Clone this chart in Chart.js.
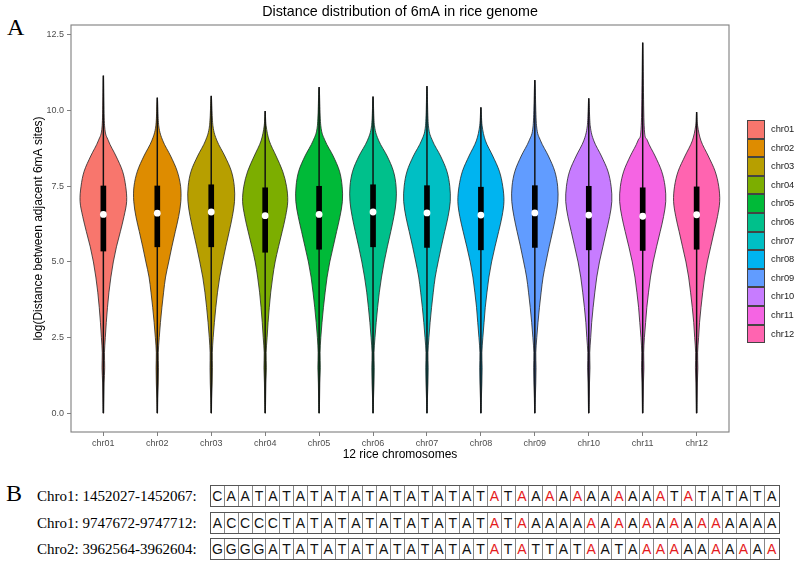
<!DOCTYPE html>
<html>
<head>
<meta charset="utf-8">
<script src="https://cdn.jsdelivr.net/npm/chart.js@4.4.1/dist/chart.umd.min.js"></script>
<style>
  body { margin: 0; width: 800px; height: 568px; background: #fff; position: relative; overflow: hidden;
         font-family: "Liberation Sans", Arial, sans-serif; }
  #chartBox { position: absolute; left: 0; top: 0; width: 800px; height: 462px; }
  .panelLetter { position: absolute; font-family: "Liberation Serif", "Times New Roman", serif;
                 font-size: 24px; line-height: 1; color: #000; }
  #legend { position: absolute; left: 747px; top: 120px; }
  .key { position: relative; height: 18.6px; }
  .swatch { position: absolute; left: 0; top: 0; width: 18px; height: 18.6px; box-sizing: border-box; border: 1px solid #444; }
  .keyText { position: absolute; left: 24px; top: 0; line-height: 18.6px; font-size: 9.3px; color: #1a1a1a; white-space: nowrap; }
  .seqRow { position: absolute; left: 0; height: 22px; }
  .seqLabel { position: absolute; left: 37px; top: 0; line-height: 22px; font-family: "Liberation Serif", "Times New Roman", serif;
              font-size: 15px; color: #000; white-space: nowrap; }
  .seqBox { position: absolute; left: 210px; top: 0; height: 22px; display: flex; border: 1px solid #555; box-sizing: border-box; }
  .cell { width: 13.85px; height: 20px; line-height: 20px; text-align: center; font-size: 14px; color: #111;
          border-right: 1px solid #888; box-sizing: border-box; }
  .cell:last-child { border-right: none; }
  .cell.m6a { color: #e41a1c; }
</style>
</head>
<body>
<div class="panelLetter" style="left:7px; top:15px;">A</div>
<div id="chartBox"><canvas id="violinChart"></canvas></div>
<div id="legend"></div>
<div class="panelLetter" style="left:6px; top:481px;">B</div>
<div id="seqPanel"></div>

<script>
/* ================= DATA ================= */

const chromosomes = ["chr01", "chr02", "chr03", "chr04", "chr05", "chr06",
                     "chr07", "chr08", "chr09", "chr10", "chr11", "chr12"];

// box plot summary (log distance)
const whiskerMin = [0, 0, 0, 0, 0, 0, 0, 0, 0, 0, 0, 0];
const whiskerMax = [11.15, 10.42, 10.48, 9.98, 10.77, 10.46, 10.80, 10.10, 11.00, 10.40, 12.24, 9.94];
const q1 = [5.36, 5.50, 5.50, 5.32, 5.42, 5.50, 5.48, 5.40, 5.48, 5.40, 5.38, 5.42];
const q3 = [7.51, 7.51, 7.55, 7.45, 7.50, 7.55, 7.52, 7.47, 7.52, 7.50, 7.45, 7.48];
const medians = [6.57, 6.61, 6.65, 6.53, 6.57, 6.65, 6.62, 6.55, 6.62, 6.55, 6.51, 6.56];

// violin width (relative density) at each level
const densityLevels = [0, 0.5, 1, 1.5, 2, 2.5, 3, 3.5, 4, 4.5, 5, 5.5, 6, 6.5, 7, 7.5, 8, 8.5, 9, 9.5];
const dens01 = [0.01, 0.02, 0.03, 0.055, 0.045, 0.08, 0.12, 0.17, 0.23, 0.31, 0.41, 0.54, 0.70, 0.85, 0.96, 0.92, 0.79, 0.52, 0.21, 0.05];
const dens02 = [0.01, 0.02, 0.04, 0.05, 0.04, 0.08, 0.13, 0.19, 0.26, 0.34, 0.47, 0.60, 0.74, 0.88, 0.97, 0.96, 0.82, 0.55, 0.23, 0.06];
const dens03 = [0.01, 0.02, 0.04, 0.05, 0.045, 0.08, 0.13, 0.19, 0.26, 0.35, 0.47, 0.60, 0.74, 0.87, 0.96, 0.95, 0.83, 0.56, 0.24, 0.07];
const dens04 = [0.01, 0.02, 0.03, 0.05, 0.04, 0.08, 0.12, 0.17, 0.23, 0.31, 0.41, 0.55, 0.70, 0.84, 0.93, 0.88, 0.72, 0.45, 0.17, 0.04];
const dens05 = [0.01, 0.02, 0.03, 0.05, 0.04, 0.07, 0.12, 0.18, 0.25, 0.33, 0.44, 0.58, 0.72, 0.86, 0.96, 0.95, 0.84, 0.58, 0.25, 0.07];
const dens06 = [0.01, 0.02, 0.04, 0.05, 0.04, 0.08, 0.13, 0.19, 0.26, 0.35, 0.46, 0.59, 0.73, 0.86, 0.95, 0.95, 0.84, 0.58, 0.24, 0.06];
const dens07 = [0.01, 0.02, 0.04, 0.05, 0.04, 0.08, 0.13, 0.19, 0.26, 0.34, 0.46, 0.59, 0.73, 0.87, 0.96, 0.94, 0.82, 0.56, 0.23, 0.06];
const dens08 = [0.01, 0.02, 0.04, 0.05, 0.04, 0.08, 0.13, 0.18, 0.25, 0.33, 0.44, 0.58, 0.73, 0.87, 0.95, 0.90, 0.76, 0.49, 0.19, 0.05];
const dens09 = [0.01, 0.02, 0.04, 0.05, 0.04, 0.08, 0.13, 0.19, 0.26, 0.34, 0.46, 0.59, 0.73, 0.86, 0.95, 0.94, 0.82, 0.56, 0.24, 0.07];
const dens10 = [0.01, 0.02, 0.03, 0.05, 0.04, 0.08, 0.12, 0.18, 0.25, 0.33, 0.44, 0.58, 0.72, 0.86, 0.95, 0.92, 0.79, 0.52, 0.21, 0.06];
const dens11 = [0.01, 0.02, 0.03, 0.05, 0.04, 0.07, 0.12, 0.17, 0.24, 0.32, 0.43, 0.57, 0.72, 0.86, 0.95, 0.92, 0.78, 0.51, 0.20, 0.06];
const dens12 = [0.01, 0.02, 0.03, 0.05, 0.04, 0.08, 0.12, 0.18, 0.25, 0.33, 0.44, 0.58, 0.72, 0.86, 0.95, 0.91, 0.76, 0.48, 0.18, 0.04];
const densities = [dens01, dens02, dens03, dens04, dens05, dens06, dens07, dens08, dens09, dens10, dens11, dens12];

const yTicks = [0, 2.5, 5, 7.5, 10, 12.5];

// panel B
const seqLabels = ["Chro1: 1452027-1452067:", "Chro1: 9747672-9747712:", "Chro2: 3962564-3962604:"];
const sequences = [
  "CAATATATATATATATATAT" + "ATAAAAAAAAAAA" + "TATATATA",
  "ACCCCTATATATATATATAT" + "AT" + "AAAAAAAAAAAAAAAAAAA",
  "GGGGATATATATATATATAT" + "ATATTAT" + "AATAAAAAAAAAAA"
];
const m6aSites = [
  [20, 22, 24, 26, 29, 32, 34],
  [20, 22, 27, 29, 31, 33, 35, 36],
  [20, 22, 27, 31, 32, 33, 36, 38, 40]
];

/* ================= STYLE ================= */

const fillColors = ["#F8766D", "#DE8C00", "#B79F00", "#7CAE00", "#00BA38", "#00C08B",
                    "#00BFC4", "#00B4F0", "#619CFF", "#C77CFF", "#F564E3", "#FF64B0"];
const violinHalf = 0.45;
const axisGrey = "#7f7f7f";
const fontFamily = "'Liberation Sans', Arial, sans-serif";

/* ================= VIOLIN PLUGIN ================= */

function smoothPath(ctx, pts) {
  ctx.moveTo(pts[0][0], pts[0][1]);
  for (let k = 0; k < pts.length - 1; k++) {
    const p0 = pts[k - 1] || pts[k];
    const p1 = pts[k];
    const p2 = pts[k + 1];
    const p3 = pts[k + 2] || p2;
    ctx.bezierCurveTo(
      p1[0] + (p2[0] - p0[0]) / 6, p1[1] + (p2[1] - p0[1]) / 6,
      p2[0] - (p3[0] - p1[0]) / 6, p2[1] - (p3[1] - p1[1]) / 6,
      p2[0], p2[1]);
  }
}

const violinPlugin = {
  id: "violins",
  beforeDatasetsDraw(chart) {
    const { ctx, chartArea, scales: { x, y } } = chart;
    ctx.save();
    ctx.beginPath();
    ctx.rect(chartArea.left, chartArea.top, chartArea.width, chartArea.height);
    ctx.clip();
    densities.forEach((dens, i) => {
      const c = i + 1;
      const left = [], right = [];
      dens.forEach((d, j) => {
        const py = y.getPixelForValue(densityLevels[j]);
        left.push([x.getPixelForValue(c - d * violinHalf), py]);
        right.push([x.getPixelForValue(c + d * violinHalf), py]);
      });
      const top = [x.getPixelForValue(c), y.getPixelForValue(whiskerMax[i])];
      const pts = left.concat([top], right.reverse());
      ctx.beginPath();
      smoothPath(ctx, pts);
      ctx.closePath();
      ctx.fillStyle = fillColors[i];
      ctx.fill();
      ctx.lineWidth = 0.8;
      ctx.strokeStyle = "#262626";
      ctx.stroke();
    });
    ctx.restore();
  },
  afterDraw(chart) {
    const { ctx, chartArea } = chart;
    ctx.save();
    ctx.strokeStyle = axisGrey;
    ctx.lineWidth = 1.1;
    ctx.strokeRect(chartArea.left, chartArea.top, chartArea.width, chartArea.height);
    ctx.restore();
  }
};

/* ================= CHART ================= */

const chromIndex = chromosomes.map((_, i) => i + 1);

new Chart(document.getElementById("violinChart"), {
  type: "bar",
  data: {
    datasets: [
      {
        label: "whisker",
        data: chromIndex.map((c, i) => ({ x: c, y: [whiskerMin[i], whiskerMax[i]] })),
        backgroundColor: "#111",
        barThickness: 0.8,
        grouped: false,
        order: 2
      },
      {
        label: "IQR",
        data: chromIndex.map((c, i) => ({ x: c, y: [q1[i], q3[i]] })),
        backgroundColor: "#000",
        barThickness: 5,
        grouped: false,
        order: 1
      },
      {
        type: "scatter",
        label: "median",
        data: chromIndex.map((c, i) => ({ x: c, y: medians[i] })),
        pointRadius: 3.4,
        pointBackgroundColor: "#fff",
        pointBorderWidth: 0,
        order: 0
      }
    ]
  },
  options: {
    responsive: true,
    maintainAspectRatio: false,
    animation: false,
    layout: { padding: 0 },
    plugins: {
      legend: { display: false },
      tooltip: { enabled: false },
      title: {
        display: true,
        text: "Distance distribution of 6mA in rice genome",
        color: "#000",
        font: { family: fontFamily, size: 14.3, weight: "normal" },
        padding: { top: 3, bottom: 4.84 }
      }
    },
    scales: {
      x: {
        type: "linear",
        min: 0.4,
        max: 12.6,
        offset: false,
        afterBuildTicks: scale => { scale.ticks = chromIndex.map(v => ({ value: v })); },
        afterFit: scale => { scale.height = 30; },
        ticks: {
          color: "#4d4d4d",
          padding: 2,
          font: { family: fontFamily, size: 9 },
          callback: v => chromosomes[v - 1]
        },
        grid: { offset: false, drawOnChartArea: false, drawTicks: true, tickLength: 4, color: axisGrey },
        border: { display: false },
        title: {
          display: true,
          text: "12 rice chromosomes",
          color: "#000",
          padding: { top: 0, bottom: 0 },
          font: { family: fontFamily, size: 12 }
        }
      },
      y: {
        min: -0.62,
        max: 12.83,
        afterBuildTicks: scale => { scale.ticks = yTicks.map(v => ({ value: v })); },
        afterFit: scale => { scale.width = 71; },
        ticks: {
          color: "#4d4d4d",
          padding: 3,
          font: { family: fontFamily, size: 9 },
          callback: v => v.toFixed(1)
        },
        grid: { drawOnChartArea: false, drawTicks: true, tickLength: 4, color: axisGrey },
        border: { display: false },
        title: {
          display: true,
          text: "log(Distance between adjacent 6mA sites)",
          color: "#000",
          padding: { top: 31.8, bottom: 0 },
          font: { family: fontFamily, size: 12 }
        }
      },
      // empty axis that reserves the legend's room on the right
      legendSpace: {
        position: "right",
        afterFit: scale => { scale.width = 71; },
        ticks: { display: false },
        grid: { display: false },
        border: { display: false }
      }
    }
  },
  plugins: [violinPlugin]
});

/* ================= LEGEND ================= */

const legend = document.getElementById("legend");
chromosomes.forEach((name, i) => {
  const key = document.createElement("div");
  key.className = "key";
  key.innerHTML = '<div class="swatch" style="background:' + fillColors[i] + '"></div>' +
                  '<div class="keyText">' + name + '</div>';
  legend.appendChild(key);
});

/* ================= PANEL B ================= */

const seqPanel = document.getElementById("seqPanel");
const rowTops = [485, 511.5, 538];
sequences.forEach((seq, r) => {
  const row = document.createElement("div");
  row.className = "seqRow";
  row.style.top = rowTops[r] + "px";
  const label = document.createElement("div");
  label.className = "seqLabel";
  label.textContent = seqLabels[r];
  row.appendChild(label);
  const box = document.createElement("div");
  box.className = "seqBox";
  seq.split("").forEach((base, k) => {
    const cell = document.createElement("div");
    cell.className = "cell" + (m6aSites[r].includes(k) ? " m6a" : "");
    cell.textContent = base;
    box.appendChild(cell);
  });
  row.appendChild(box);
  seqPanel.appendChild(row);
});
</script>
</body>
</html>
